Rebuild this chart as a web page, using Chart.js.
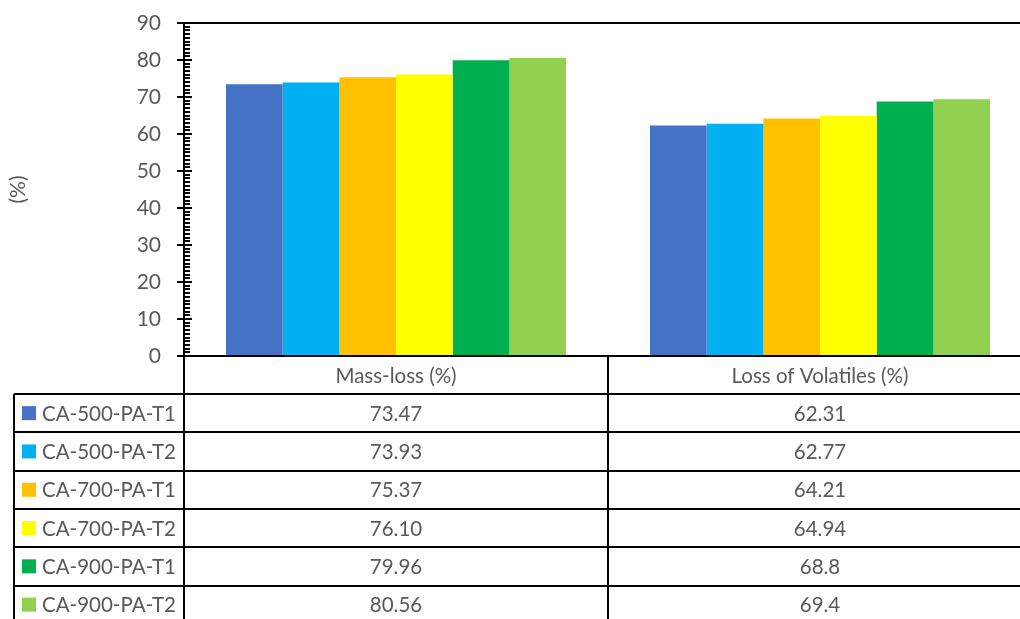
<!DOCTYPE html>
<html>
<head>
<meta charset="utf-8">
<script src="https://cdn.jsdelivr.net/npm/chart.js@4"></script>
<style>
  html, body { margin: 0; padding: 0; background: #fff; overflow: hidden; }
  #wrap { width: 1040px; height: 640px; }
</style>
</head>
<body>
<div id="wrap"><canvas id="ct-chart"></canvas></div>
<script>
var categories = ["Mass-loss (%)", "Loss of Volatiles (%)"];
var seriesNames = ["CA-500-PA-T1", "CA-500-PA-T2", "CA-700-PA-T1", "CA-700-PA-T2", "CA-900-PA-T1", "CA-900-PA-T2"];
var massLoss = ["73.47", "73.93", "75.37", "76.10", "79.96", "80.56"];
var volatilesLoss = ["62.31", "62.77", "64.21", "64.94", "68.8", "69.4"];
var yTicks = [0, 10, 20, 30, 40, 50, 60, 70, 80, 90];
var seriesColors = ["#4472C4", "#00B0F0", "#FFC000", "#FFFF00", "#00B050", "#92D050"];

var textColor = "#595959",
  fontFamily = "Lato, 'Open Sans', sans-serif",
  tableLeft = 14,
  headerH = 38,
  rowH = 38.3;

// one dataset per sample, values taken straight from the table strings
var datasets = seriesNames.map(function (name, i) {
  return {
    label: name,
    data: [Number(massLoss[i]), Number(volatilesLoss[i])],
    backgroundColor: seriesColors[i],
    borderWidth: 0,
    categoryPercentage: 0.802,
    barPercentage: 1,
  };
});

// axis frame, minor ticks and the data table under the plot
var framePlugin = {
  id: "frame",
  afterDraw: function (chart) {
    var ctx = chart.ctx,
      area = chart.chartArea,
      xs = chart.scales.x,
      ys = chart.scales.y,
      w = chart.width,
      h = chart.height;

    ctx.save();
    ctx.strokeStyle = "#000";
    ctx.lineWidth = 2;

    var line = function (x1, y1, x2, y2) {
      ctx.beginPath();
      ctx.moveTo(x1, y1);
      ctx.lineTo(x2, y2);
      ctx.stroke();
    };

    line(area.left, area.top, w, area.top);
    line(area.left, area.top - 1, area.left, h);
    line(area.left, area.bottom, w, area.bottom);

    for (var v = ys.min; v <= ys.max; v++) {
      var y = Math.round(ys.getPixelForValue(v));
      if (v % 10 === 0) line(area.left - 7, y, area.left + 8, y);
      else line(area.left, y, area.left + 6, y);
    }

    // table grid
    var divider = (xs.getPixelForValue(0) + xs.getPixelForValue(1)) / 2;
    line(divider, area.bottom, divider, h);
    var tableTop = area.bottom + headerH;
    for (var r = 0; r <= seriesNames.length; r++) {
      var ry = Math.round(tableTop + r * rowH);
      line(tableLeft, ry, w, ry);
    }
    line(tableLeft, tableTop, tableLeft, h);

    ctx.fillStyle = textColor;
    ctx.font = "20.5px " + fontFamily;
    ctx.textAlign = "center";
    ctx.textBaseline = "middle";
    categories.forEach(function (c, i) {
      ctx.fillText(c, xs.getPixelForValue(i), area.bottom + headerH / 2 + 1);
    });

    seriesNames.forEach(function (name, i) {
      var cy = tableTop + i * rowH + rowH / 2;
      ctx.fillStyle = seriesColors[i];
      ctx.fillRect(tableLeft + 8, cy - 7, 14, 14);
      ctx.fillStyle = textColor;
      ctx.textAlign = "left";
      ctx.fillText(name, tableLeft + 28, cy + 1);
      ctx.textAlign = "center";
      ctx.fillText(massLoss[i], xs.getPixelForValue(0), cy + 1);
      ctx.fillText(volatilesLoss[i], xs.getPixelForValue(1), cy + 1);
    });
    ctx.restore();
  },
};

new Chart(document.getElementById("ct-chart"), {
  type: "bar",
  data: { labels: categories, datasets: datasets },
  options: {
    responsive: true,
    maintainAspectRatio: false,
    animation: false,
    layout: { padding: { left: 0, top: 23, right: 8, bottom: 284 } },
    plugins: { legend: { display: false }, tooltip: { enabled: false } },
    scales: {
      x: {
        grid: { display: false },
        border: { display: false },
        ticks: { display: false },
        afterFit: function (scale) {
          scale.height = 0;
        },
      },
      y: {
        min: 0,
        max: 90,
        afterBuildTicks: function (scale) {
          scale.ticks = yTicks.map(function (v) {
            return { value: v };
          });
        },
        // invisible tick marks only push the labels away from the axis
        grid: {
          display: true,
          drawOnChartArea: false,
          drawTicks: true,
          tickLength: 23,
          color: "rgba(0,0,0,0)",
        },
        border: { display: false },
        ticks: { color: textColor, font: { family: fontFamily, size: 21 }, padding: 0 },
        title: {
          display: true,
          text: "(%)",
          color: textColor,
          font: { family: fontFamily, size: 21 },
          padding: { top: 6, bottom: 0 },
        },
        afterFit: function (scale) {
          scale.width = 184;
        },
      },
    },
  },
  plugins: [framePlugin],
});
</script>
</body>
</html>
